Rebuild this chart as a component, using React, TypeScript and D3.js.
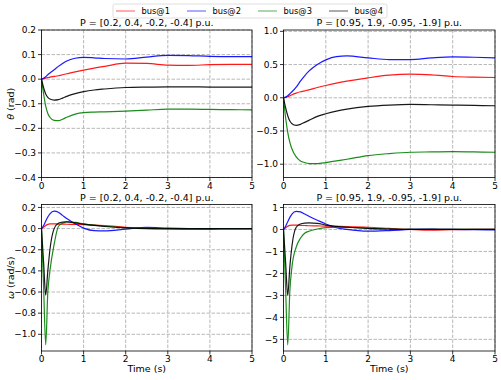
import React from 'react';
import * as d3 from 'd3';

// time samples (s), shared by every series
const timeS = [0, 0.05, 0.1, 0.15, 0.2, 0.3, 0.4, 0.5, 0.6, 0.8, 1.0, 1.25, 1.5, 2, 2.5, 3, 3.5, 4, 4.5, 5];

const busNames = ['bus@1', 'bus@2', 'bus@3', 'bus@4'];
const busColors = ['#ff0000', '#0000ff', '#008000', '#000000'];

// theta (rad), P = [0.2, 0.4, -0.2, -0.4]
const thetaLowBus1 = [0, 0.002, 0.004, 0.006, 0.008, 0.011, 0.014, 0.018, 0.022, 0.03, 0.037, 0.045, 0.052, 0.065, 0.064, 0.057, 0.056, 0.059, 0.06, 0.06];
const thetaLowBus2 = [0, 0.004, 0.01, 0.018, 0.025, 0.038, 0.052, 0.064, 0.074, 0.085, 0.089, 0.087, 0.084, 0.082, 0.09, 0.097, 0.096, 0.093, 0.092, 0.092];
const thetaLowBus3 = [0, -0.06, -0.11, -0.14, -0.155, -0.168, -0.169, -0.163, -0.155, -0.142, -0.136, -0.134, -0.133, -0.13, -0.126, -0.122, -0.122, -0.123, -0.124, -0.125];
const thetaLowBus4 = [0, -0.035, -0.06, -0.074, -0.081, -0.085, -0.083, -0.077, -0.07, -0.059, -0.051, -0.044, -0.04, -0.034, -0.032, -0.031, -0.031, -0.032, -0.032, -0.032];

// theta (rad), P = [0.95, 1.9, -0.95, -1.9]
const thetaHighBus1 = [0, 0.005, 0.015, 0.03, 0.045, 0.07, 0.09, 0.105, 0.12, 0.155, 0.185, 0.22, 0.25, 0.3, 0.34, 0.355, 0.345, 0.32, 0.31, 0.305];
const thetaHighBus2 = [0, 0.01, 0.03, 0.06, 0.09, 0.16, 0.25, 0.33, 0.4, 0.5, 0.57, 0.62, 0.63, 0.6, 0.575, 0.575, 0.6, 0.615, 0.61, 0.6];
const thetaHighBus3 = [0, -0.3, -0.52, -0.67, -0.77, -0.89, -0.95, -0.975, -0.99, -0.99, -0.975, -0.95, -0.925, -0.87, -0.84, -0.82, -0.815, -0.81, -0.815, -0.82];
const thetaHighBus4 = [0, -0.15, -0.27, -0.35, -0.39, -0.415, -0.4, -0.37, -0.34, -0.28, -0.24, -0.2, -0.17, -0.13, -0.11, -0.1, -0.105, -0.11, -0.115, -0.12];

// omega (rad/s), P = [0.2, 0.4, -0.2, -0.4]
const omegaLowBus1 = [0, 0.015, 0.03, 0.04, 0.045, 0.045, 0.043, 0.042, 0.041, 0.04, 0.038, 0.034, 0.028, 0.012, 0.002, -0.004, -0.006, -0.005, -0.003, -0.002];
const omegaLowBus2 = [0, 0.03, 0.07, 0.11, 0.14, 0.165, 0.155, 0.125, 0.095, 0.045, 0.005, -0.02, -0.022, -0.005, 0.012, 0.005, 0, -0.002, 0, 0];
const omegaLowBus3 = [0, -0.55, -1.1, -0.6, -0.4, -0.15, 0.02, 0.05, 0.065, 0.058, 0.045, 0.032, 0.022, 0.01, 0.003, 0, -0.002, 0, 0, 0];
const omegaLowBus4 = [0, -0.32, -0.63, -0.4, -0.2, 0.0, 0.05, 0.062, 0.063, 0.055, 0.042, 0.03, 0.02, 0.006, 0, 0, 0, 0, 0, 0];

// omega (rad/s), P = [0.95, 1.9, -0.95, -1.9]
const omegaHighBus1 = [0, 0.08, 0.15, 0.19, 0.2, 0.2, 0.19, 0.18, 0.17, 0.16, 0.15, 0.14, 0.13, 0.1, 0.05, 0, -0.03, -0.01, 0, 0];
const omegaHighBus2 = [0, 0.15, 0.35, 0.55, 0.7, 0.82, 0.8, 0.7, 0.6, 0.42, 0.25, 0.08, 0, -0.08, -0.05, 0, 0.02, 0, -0.01, -0.02];
const omegaHighBus3 = [0, -2.7, -5.25, -2.8, -1.7, -0.8, -0.4, -0.17, -0.08, 0.02, 0.08, 0.1, 0.1, 0.05, 0.02, 0, 0, 0, 0, 0];
const omegaHighBus4 = [0, -1.5, -3.0, -1.7, -0.75, 0.1, 0.25, 0.29, 0.3, 0.28, 0.2, 0.14, 0.1, 0.05, 0.02, 0, 0, 0, 0, 0];

const titleLow = 'P = [0.2, 0.4, -0.2, -0.4] p.u.';
const titleHigh = 'P = [0.95, 1.9, -0.95, -1.9] p.u.';
const xTicks = [0, 1, 2, 3, 4, 5];
const yTicksThetaLow = [0.2, 0.1, 0, -0.1, -0.2, -0.3, -0.4];
const yTicksThetaHigh = [1.0, 0.5, 0, -0.5, -1.0];
const yTicksOmegaLow = [0.2, 0, -0.2, -0.4, -0.6, -0.8, -1.0];
const yTicksOmegaHigh = [1, 0, -1, -2, -3, -4, -5];

const W = 501;
const H = 380;
const FONT = 'DejaVu Sans, sans-serif';

type Panel = {
  x0: number; x1: number; y0: number; y1: number;
  yDomain: [number, number];
  yTicks: number[];
  yFmt: (v: number) => string;
  title: string;
  series: number[][];
  yLabel?: React.ReactNode;
  xLabel?: string;
};

const minus = (s: string) => s.replace('-', '\u2212');
const fmt1 = (v: number) => minus(d3.format('.1f')(v));
const fmt0 = (v: number) => minus(d3.format('d')(v));

const panels: Panel[] = [
  {
    x0: 41.5, x1: 252, y0: 30, y1: 177.5, yDomain: [-0.4, 0.2], yTicks: yTicksThetaLow, yFmt: fmt1,
    title: titleLow, series: [thetaLowBus1, thetaLowBus2, thetaLowBus3, thetaLowBus4],
    yLabel: <><tspan fontStyle="italic">θ</tspan> (rad)</>,
  },
  {
    x0: 283.5, x1: 495, y0: 30, y1: 177.5, yDomain: [-1.2, 1.02], yTicks: yTicksThetaHigh, yFmt: fmt1,
    title: titleHigh, series: [thetaHighBus1, thetaHighBus2, thetaHighBus3, thetaHighBus4],
  },
  {
    x0: 41.5, x1: 252, y0: 204.5, y1: 351, yDomain: [-1.158, 0.228], yTicks: yTicksOmegaLow, yFmt: fmt1,
    title: titleLow, series: [omegaLowBus1, omegaLowBus2, omegaLowBus3, omegaLowBus4],
    yLabel: <><tspan fontStyle="italic">ω</tspan> (rad/s)</>, xLabel: 'Time (s)',
  },
  {
    x0: 283.5, x1: 495, y0: 204.5, y1: 351, yDomain: [-5.53, 1.136], yTicks: yTicksOmegaHigh, yFmt: fmt0,
    title: titleHigh, series: [omegaHighBus1, omegaHighBus2, omegaHighBus3, omegaHighBus4],
    xLabel: 'Time (s)',
  },
];

function PanelView({ p }: { p: Panel }) {
  const x = d3.scaleLinear().domain([0, 5]).range([p.x0, p.x1]);
  const y = d3.scaleLinear().domain(p.yDomain).range([p.y1, p.y0]);
  const line = d3.line<number>()
    .x((_, i) => x(timeS[i]))
    .y(d => y(d))
    .curve(d3.curveMonotoneX);
  const clipId = `clip-${p.x0}-${p.y0}`.replace(/\./g, '_');
  return (
    <g>
      <defs>
        <clipPath id={clipId}>
          <rect x={p.x0} y={p.y0} width={p.x1 - p.x0} height={p.y1 - p.y0} />
        </clipPath>
      </defs>
      {/* grid */}
      {xTicks.map(t => (
        <line key={'gx' + t} x1={x(t)} x2={x(t)} y1={p.y0} y2={p.y1}
          stroke="#b0b0b0" strokeWidth={0.9} strokeDasharray="3.5,1.5" />
      ))}
      {p.yTicks.map(t => (
        <line key={'gy' + t} x1={p.x0} x2={p.x1} y1={y(t)} y2={y(t)}
          stroke="#b0b0b0" strokeWidth={0.9} strokeDasharray="3.5,1.5" />
      ))}
      {/* series */}
      <g clipPath={`url(#${clipId})`}>
        {p.series.map((s, i) => (
          <path key={i} d={line(s) ?? ''} fill="none" stroke={busColors[i]}
            strokeWidth={1.2} strokeOpacity={0.9} />
        ))}
      </g>
      {/* frame */}
      <rect x={p.x0} y={p.y0} width={p.x1 - p.x0} height={p.y1 - p.y0}
        fill="none" stroke="#000" strokeWidth={0.8} />
      {/* x ticks */}
      {xTicks.map(t => (
        <g key={'xt' + t}>
          <line x1={x(t)} x2={x(t)} y1={p.y1} y2={p.y1 + 3.5} stroke="#000" strokeWidth={0.8} />
          <text x={x(t)} y={p.y1 + 11} textAnchor="middle" fontSize={9} fontFamily={FONT}>{t}</text>
        </g>
      ))}
      {/* y ticks */}
      {p.yTicks.map(t => (
        <g key={'yt' + t}>
          <line x1={p.x0 - 3.5} x2={p.x0} y1={y(t)} y2={y(t)} stroke="#000" strokeWidth={0.8} />
          <text x={p.x0 - 5.5} y={y(t)} dy="0.35em" textAnchor="end" fontSize={9} fontFamily={FONT}>{p.yFmt(t)}</text>
        </g>
      ))}
      <text x={(p.x0 + p.x1) / 2} y={p.y0 - 4} textAnchor="middle" fontSize={9.5} fontFamily={FONT}>{p.title}</text>
      {p.yLabel && (
        <text transform={`translate(14,${(p.y0 + p.y1) / 2}) rotate(-90)`} textAnchor="middle"
          fontSize={9.5} fontFamily={FONT}>{p.yLabel}</text>
      )}
      {p.xLabel && (
        <text x={(p.x0 + p.x1) / 2} y={p.y1 + 21} textAnchor="middle" fontSize={9.5} fontFamily={FONT}>{p.xLabel}</text>
      )}
    </g>
  );
}

function Legend() {
  const lx = d3.scaleLinear().domain([0, 1]).range([116, 187]);
  return (
    <g>
      <rect x={113} y={4} width={274} height={14} rx={2} fill="#fff" fillOpacity={0.8}
        stroke="#d6d6d6" strokeWidth={0.8} />
      {busNames.map((name, i) => (
        <g key={name}>
          <line x1={lx(i)} x2={lx(i) + 19} y1={11} y2={11} stroke={busColors[i]}
            strokeOpacity={0.5} strokeWidth={1.3} />
          <text x={lx(i) + 25.5} y={14} fontSize={8.3} fontFamily={FONT}>{name}</text>
        </g>
      ))}
    </g>
  );
}

export default function App() {
  return (
    <svg width={W} height={H} style={{ position: 'absolute', left: 0, top: 0, background: '#fff' }}>
      {panels.map((p, i) => <PanelView key={i} p={p} />)}
      <Legend />
    </svg>
  );
}
